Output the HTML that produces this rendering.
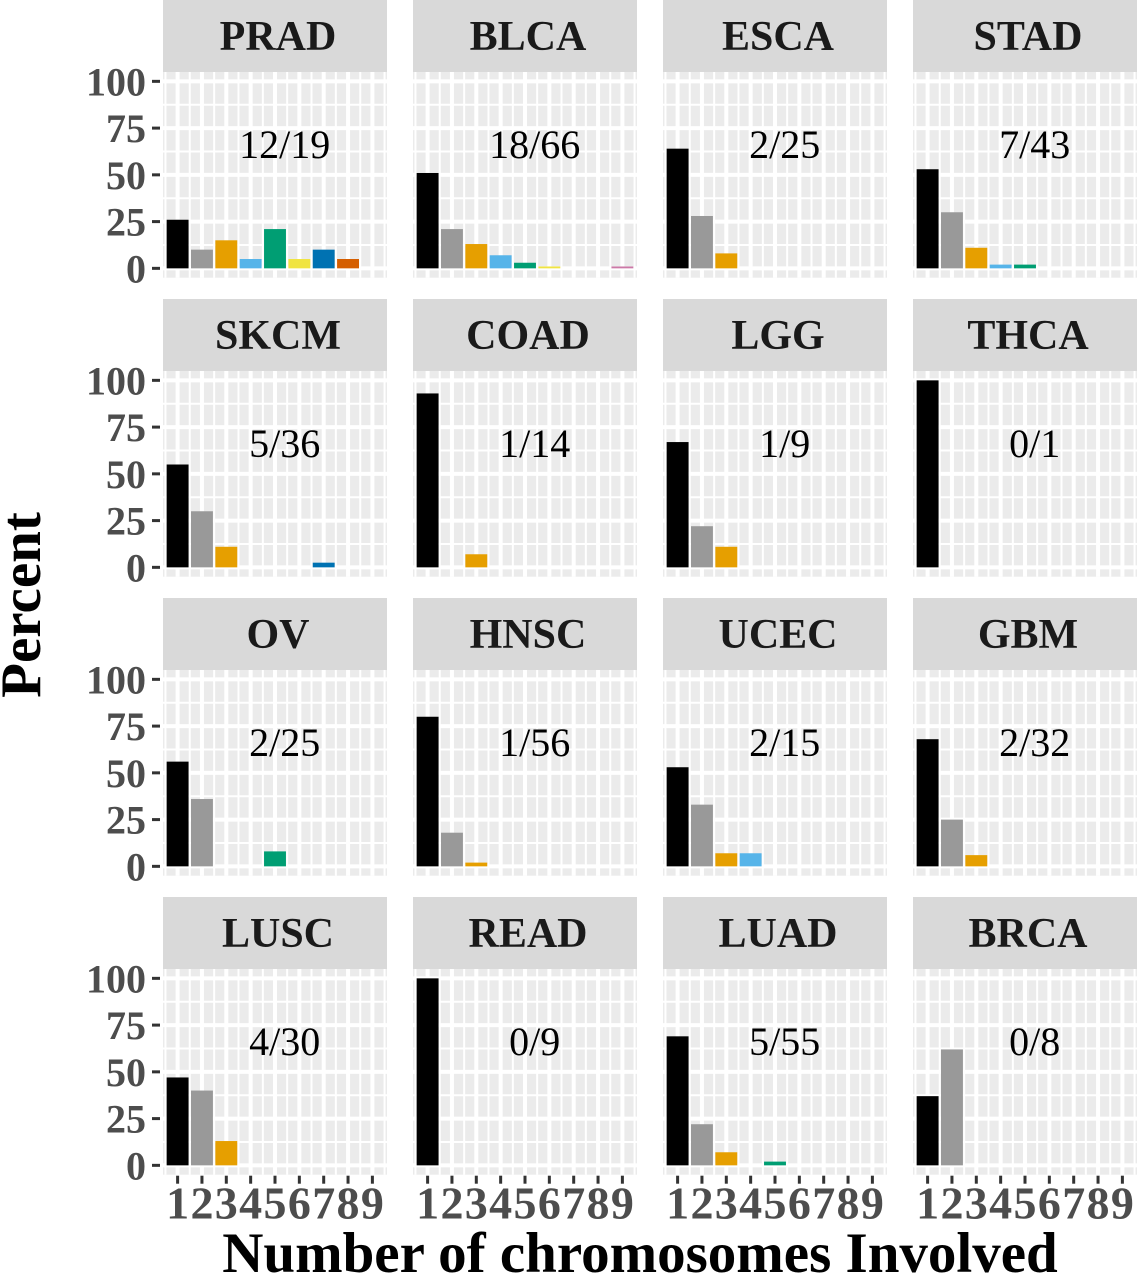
<!DOCTYPE html>
<html><head><meta charset="utf-8"><style>
body{margin:0;background:#fff;}
svg{display:block;font-family:"Liberation Serif",serif;}
</style></head><body>
<svg id="chart" width="1137" height="1280" viewBox="0 0 1137 1280"></svg>
<script>
const panelNames = ["PRAD","BLCA","ESCA","STAD","SKCM","COAD","LGG","THCA","OV","HNSC","UCEC","GBM","LUSC","READ","LUAD","BRCA"];
const panelLabels = ["12/19","18/66","2/25","7/43","5/36","1/14","1/9","0/1","2/25","1/56","2/15","2/32","4/30","0/9","5/55","0/8"];
const PRAD = [26,10,15,5,21,5,10,5,0];
const BLCA = [51,21,13,7,3,1,0,0,1];
const ESCA = [64,28,8,0,0,0,0,0,0];
const STAD = [53,30,11,2,2,0,0,0,0];
const SKCM = [55,30,11,0,0,0,2.5,0,0];
const COAD = [93,0,7,0,0,0,0,0,0];
const LGG  = [67,22,11,0,0,0,0,0,0];
const THCA = [100,0,0,0,0,0,0,0,0];
const OV   = [56,36,0,0,8,0,0,0,0];
const HNSC = [80,18,2,0,0,0,0,0,0];
const UCEC = [53,33,7,7,0,0,0,0,0];
const GBM  = [68,25,6,0,0,0,0,0,0];
const LUSC = [47,40,13,0,0,0,0,0,0];
const READ = [100,0,0,0,0,0,0,0,0];
const LUAD = [69,22,7,0,2,0,0,0,0];
const BRCA = [37,62,0,0,0,0,0,0,0];
const panelValues = [PRAD,BLCA,ESCA,STAD,SKCM,COAD,LGG,THCA,OV,HNSC,UCEC,GBM,LUSC,READ,LUAD,BRCA];
const categories = [1,2,3,4,5,6,7,8,9];
const yTicks = [0,25,50,75,100];
const colors = ["#000000","#999999","#E69F00","#56B4E9","#009E73","#F0E442","#0072B2","#D55E00","#CC79A7"];

const NS="http://www.w3.org/2000/svg";
const svg=document.getElementById('chart');
function mk(tag,attrs,parent){const e=document.createElementNS(NS,tag);for(const k in attrs)e.setAttribute(k,attrs[k]);(parent||svg).appendChild(e);return e;}

const colX0=[163,413,663,913], pw=224, stripH=72, plotH=205.7, rowStep=299;
for(let p=0;p<16;p++){
  const r=Math.floor(p/4), c=p%4;
  const x0=colX0[c], top=r*rowStep, py=top+stripH;
  const g=mk('g',{});
  
  
  const xs=v=>x0+(v-0.4)*pw/9.2;
  const ys=v=>py+plotH-(v+5)*plotH/110;
  const strip=mk('rect',{x:x0,y:top,width:pw,height:stripH,fill:'#d9d9d9'},g);
  
  
  const st=mk('text',{x:x0+pw/2+3,y:top+50,'text-anchor':'middle','font-size':42,'font-weight':'bold',fill:'#1a1a1a'},g);
  st.textContent=panelNames[p];
  
  
  const bg=mk('rect',{x:x0,y:py,width:pw,height:plotH,fill:'#ebebeb'},g);
  
  
  for(let v=12.5;v<100;v+=25) mk('line',{x1:x0,x2:x0+pw,y1:ys(v),y2:ys(v),stroke:'#fff','stroke-width':2},g);
  for(let v=0.5;v<=9.5;v+=1) mk('line',{x1:xs(v),x2:xs(v),y1:py,y2:py+plotH,stroke:'#fff','stroke-width':2},g);
  yTicks.forEach(v=>mk('line',{x1:x0,x2:x0+pw,y1:ys(v),y2:ys(v),stroke:'#fff','stroke-width':4},g));
  categories.forEach(v=>mk('line',{x1:xs(v),x2:xs(v),y1:py,y2:py+plotH,stroke:'#fff','stroke-width':4},g));
  panelValues[p].forEach((v,i)=>{
    if(v<=0) return;
    const cat=categories[i];
    const b=mk('rect',{x:xs(cat-0.45),y:ys(v),width:xs(cat+0.45)-xs(cat-0.45),height:ys(0)-ys(v),fill:colors[i]},g);
    
    
  });
  const lab=mk('text',{x:xs(5.4),y:ys(59),'text-anchor':'middle','font-size':40,fill:'#000'},g);
  lab.textContent=panelLabels[p];
  
  
  if(c===0){
    yTicks.forEach(v=>{
      mk('line',{x1:x0-11,x2:x0-3,y1:ys(v),y2:ys(v),stroke:'#333','stroke-width':3},g);
      const t=mk('text',{x:x0-17,y:ys(v)+14,'text-anchor':'end','font-size':40,'font-weight':'bold',fill:'#4d4d4d'},g);
      t.textContent=v;
      
      
    });
  }
  if(r===3){
    categories.forEach(v=>{
      mk('line',{x1:xs(v),x2:xs(v),y1:py+plotH+1,y2:py+plotH+9,stroke:'#333','stroke-width':3},g);
      const t=mk('text',{x:xs(v),y:py+plotH+44,'text-anchor':'middle','font-size':46,'font-weight':'bold',fill:'#4d4d4d'},g);
      t.textContent=v;
      
      
    });
  }
}
const xt=mk('text',{x:640,y:1272,'text-anchor':'middle','font-size':57,'font-weight':'bold',fill:'#000'});
xt.textContent='Number of chromosomes Involved';


const yt=mk('text',{x:0,y:0,'text-anchor':'middle','font-size':57,'font-weight':'bold',fill:'#000',transform:'translate(40,605) rotate(-90)'});
yt.textContent='Percent';


</script>
</body></html>
